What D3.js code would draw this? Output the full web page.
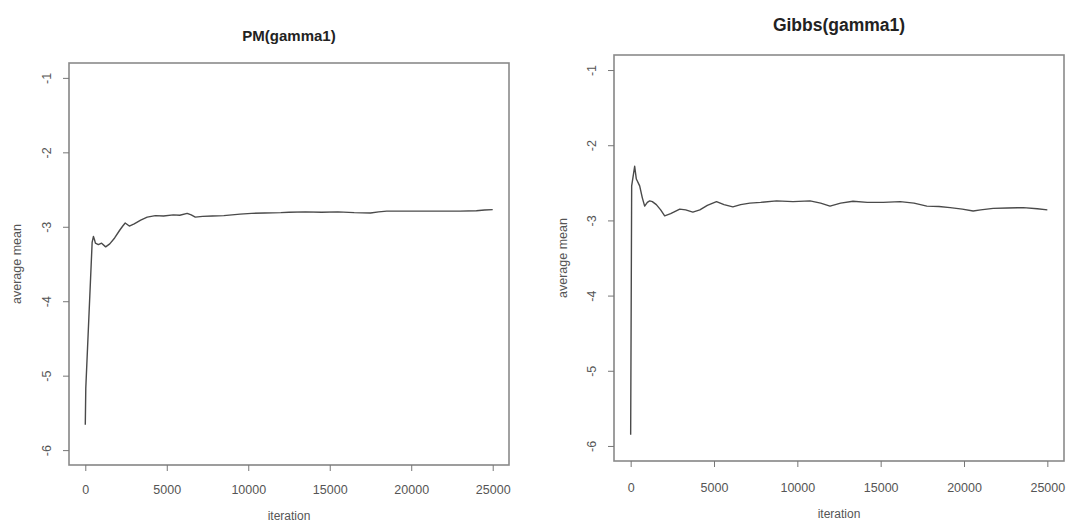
<!DOCTYPE html>
<html>
<head>
<meta charset="utf-8">
<script src="https://cdn.jsdelivr.net/npm/d3@7"></script>
<style>
  html, body { margin: 0; padding: 0; background: #fff; }
  svg { display: block; }
  text { font-family: "Liberation Sans", Arial, sans-serif; }
</style>
</head>
<body>
<svg id="chart" width="1069" height="525"></svg>
<script>
// ---- Data ----
const xTicks = [0, 5000, 10000, 15000, 20000, 25000];
const yTicks = [-1, -2, -3, -4, -5, -6];
const xLim = [0, 25000];
const yLim = [-6, -1];

const pmIter = [0, 30, 420, 500, 560, 620, 800, 1000, 1250, 1500, 1800, 2100, 2300, 2450, 2700, 3000,
  3400, 3800, 4300, 4800, 5400, 5800, 6250, 6500, 6750, 7200, 7800, 8500, 9500, 10200, 11000, 12000,
  12500, 13500, 14500, 15500, 16500, 17500, 18000, 18500, 19500, 21000, 23000, 24000, 24500, 25000];
const pmMean = [-5.66, -5.17, -3.21, -3.13, -3.17, -3.22, -3.24, -3.22, -3.27, -3.23, -3.15, -3.05, -2.99, -2.95, -2.99, -2.96,
  -2.91, -2.87, -2.85, -2.855, -2.84, -2.845, -2.82, -2.84, -2.87, -2.86, -2.855, -2.85, -2.83, -2.82, -2.815, -2.81,
  -2.805, -2.80, -2.805, -2.80, -2.81, -2.815, -2.80, -2.79, -2.79, -2.79, -2.79, -2.785, -2.775, -2.77];

const gibbsIter = [0, 60, 240, 340, 540, 700, 840, 1000, 1140, 1300, 1540, 1800, 2040, 2400, 2945, 3300,
  3730, 4150, 4600, 5150, 5600, 6130, 6600, 7150, 7800, 8755, 9740, 10760, 11400, 11960, 12600, 13340,
  14200, 15150, 16170, 17000, 17770, 18500, 19170, 19900, 20550, 21000, 21750, 22600, 23560, 24400, 25000];
const gibbsMean = [-5.85, -2.54, -2.28, -2.45, -2.54, -2.70, -2.81, -2.76, -2.74, -2.75, -2.79, -2.86, -2.94, -2.91, -2.85, -2.86,
  -2.89, -2.86, -2.80, -2.75, -2.79, -2.82, -2.79, -2.77, -2.76, -2.74, -2.75, -2.74, -2.77, -2.81, -2.77, -2.745,
  -2.76, -2.76, -2.75, -2.77, -2.81, -2.815, -2.83, -2.85, -2.875, -2.86, -2.84, -2.835, -2.83, -2.845, -2.86];

const panels = [
  { title: "PM(gamma1)", iter: pmIter, mean: pmMean,
    box: { l: 69, r: 509, t: 63, b: 465 }, titleY: 41, titleSize: 15, ylabX: 17, yTickX: 47, xTickY: 494, xlabY: 520 },
  { title: "Gibbs(gamma1)", iter: gibbsIter, mean: gibbsMean,
    box: { l: 614, r: 1064, t: 55, b: 461 }, titleY: 31, titleSize: 17.5, ylabX: 563, yTickX: 592, xTickY: 492, xlabY: 518 }
];

const svg = d3.select("#chart");

panels.forEach(p => {
  const xPad = (xLim[1] - xLim[0]) * 0.04;
  const yPad = (yLim[1] - yLim[0]) * 0.04;
  const x = d3.scaleLinear().domain([xLim[0] - xPad, xLim[1] + xPad]).range([p.box.l, p.box.r]);
  const y = d3.scaleLinear().domain([yLim[0] - yPad, yLim[1] + yPad]).range([p.box.b, p.box.t]);
  const g = svg.append("g");

  // line
  const pts = p.iter.map((it, i) => [it, p.mean[i]]);
  g.append("path")
    .datum(pts)
    .attr("fill", "none")
    .attr("stroke", "#4a4a4a")
    .attr("stroke-width", 1.4)
    .attr("stroke-linejoin", "round")
    .attr("d", d3.line().x(d => x(d[0])).y(d => y(d[1])));

  // box
  g.append("rect")
    .attr("x", p.box.l).attr("y", p.box.t)
    .attr("width", p.box.r - p.box.l).attr("height", p.box.b - p.box.t)
    .attr("fill", "none").attr("stroke", "#8a8a8a").attr("stroke-width", 1.6);

  // x axis
  const xAxis = d3.axisBottom(x).tickValues(xTicks).tickSize(6).tickFormat(d3.format("d"));
  const xa = g.append("g").attr("transform", `translate(0,${p.box.b})`).call(xAxis);
  xa.select(".domain").attr("d", `M${x(xTicks[0])},0H${x(xTicks[xTicks.length-1])}`).attr("stroke", "#999");
  xa.selectAll(".tick line").attr("stroke", "#777");
  xa.selectAll(".tick text")
    .attr("y", p.xTickY - p.box.b).attr("dy", 0)
    .attr("fill", "#555").style("font-size", "12.5px");

  // y axis
  const yAxis = d3.axisLeft(y).tickValues(yTicks).tickSize(6).tickFormat(d3.format("d"));
  const ya = g.append("g").attr("transform", `translate(${p.box.l},0)`).call(yAxis);
  ya.select(".domain").attr("d", `M0,${y(yTicks[yTicks.length-1])}V${y(yTicks[0])}`).attr("stroke", "#999");
  ya.selectAll(".tick line").attr("stroke", "#777");
  ya.selectAll(".tick text")
    .attr("x", null).attr("dy", null)
    .attr("text-anchor", "middle")
    .attr("transform", `translate(${p.yTickX - p.box.l},0) rotate(-90)`)
    .attr("dy", "0.35em")
    .attr("fill", "#555").style("font-size", "12.5px")
    .text(d => d3.format("d")(d).replace("−", "-"));

  // title
  g.append("text")
    .attr("x", (p.box.l + p.box.r) / 2).attr("y", p.titleY)
    .attr("text-anchor", "middle")
    .attr("font-weight", "bold")
    .attr("fill", "#222")
    .style("font-size", p.titleSize + "px")
    .text(p.title);

  // x label
  g.append("text")
    .attr("x", (p.box.l + p.box.r) / 2).attr("y", p.xlabY)
    .attr("text-anchor", "middle")
    .attr("fill", "#555")
    .style("font-size", "12px")
    .text("iteration");

  // y label
  g.append("text")
    .attr("transform", `translate(${p.ylabX},${(p.box.t + p.box.b) / 2}) rotate(-90)`)
    .attr("text-anchor", "middle")
    .attr("dy", "0.35em")
    .attr("fill", "#555")
    .style("font-size", "12.5px")
    .text("average mean");
});
</script>
</body>
</html>
